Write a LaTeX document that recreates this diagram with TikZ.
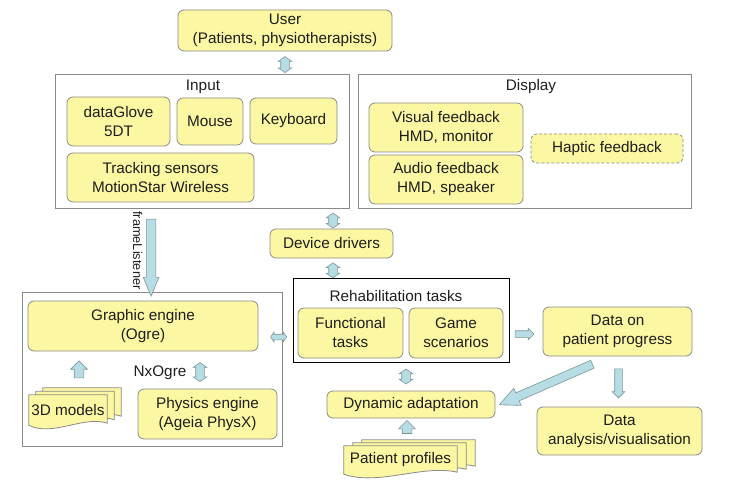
\documentclass[tikz,border=0pt]{standalone}
\usepackage{fontspec}
\setmainfont{Liberation Sans}
\usetikzlibrary{shapes,arrows,positioning,calc,backgrounds}
\definecolor{boxyellow}{HTML}{FBF7A2}
\definecolor{boxline}{HTML}{8A8A8A}
\definecolor{textgray}{HTML}{1E1E1E}
\definecolor{arrowblue}{HTML}{B5DDE3}
\definecolor{arrowline}{HTML}{7E9599}

\tikzset{
  unit/.style={draw=boxline, fill=boxyellow, rounded corners=6pt, align=center, inner sep=0pt, line width=0.8pt},
  group/.style={draw=boxline, line width=0.8pt, inner sep=0pt},
  pagebox/.style={draw=boxline, fill=boxyellow, line width=0.8pt},
  dbl/.style={double arrow, draw=arrowline, fill=arrowblue, inner xsep=0pt, inner ysep=4pt, line width=0.6pt,
    minimum width=13pt, double arrow head extend=2.5pt, double arrow tip angle=110},
  sgl/.style={single arrow, draw=arrowline, fill=arrowblue, inner xsep=0pt, inner ysep=4.5pt, line width=0.6pt,
    minimum width=16pt, single arrow head extend=3.5pt}
}

% stack of pages behind a document node
\newcommand{\pagestack}[3]{%
  \begin{scope}[on background layer]
    \foreach \k in {2,1,0}{
      \draw[pagebox]
        ($(#1.south west)+(\k*#2,\k*#3)$) -- ($(#1.north west)+(\k*#2,\k*#3)$)
        -- ($(#1.north east)+(\k*#2,\k*#3)$) -- ($(#1.south east)+(\k*#2,\k*#3-2)$)
        .. controls ($(#1.south east)!0.3!(#1.south west)+(\k*#2,\k*#3-10)$)
        and ($(#1.south west)!0.3!(#1.south east)+(\k*#2,\k*#3+12)$)
        .. ($(#1.south west)+(\k*#2,\k*#3)$) -- cycle;
    }
  \end{scope}}

\begin{document}
\begin{tikzpicture}[x=1pt, y=-1pt, every node/.style={font=\fontsize{15.3}{19}\selectfont, text=textgray}]
  \useasboundingbox (0,0) rectangle (730,486);

  % User
  \node[unit, minimum width=214pt, minimum height=41pt] (user) at (285,30.5) {User\\(Patients, physiotherapists)};

  % Input
  \node[group, minimum width=294pt, minimum height=134pt] (inputbox) at (202,141) {};
  \node (inputlabel) at (203,87) {Input};
  \node[unit, minimum width=103pt, minimum height=49pt] (glove) at (118.5,121.5) {dataGlove\\5DT};
  \node[unit, minimum width=66pt, minimum height=47pt] (mouse) at (210,121.5) {Mouse};
  \node[unit, minimum width=87pt, minimum height=46pt] (keyboard) at (293.5,121) {Keyboard};
  \node[unit, minimum width=187pt, minimum height=49pt] (tracking) at (160.5,177.5) {Tracking sensors\\MotionStar Wireless};

  % Display
  \node[group, minimum width=333pt, minimum height=134pt] (displaybox) at (524.5,141) {};
  \node (displaylabel) at (531,87) {Display};
  \node[unit, minimum width=154pt, minimum height=49pt] (visual) at (446,127.5) {Visual feedback\\HMD, monitor};
  \node[unit, minimum width=154pt, minimum height=49pt] (audio) at (446,179.5) {Audio feedback\\HMD, speaker};
  \node[unit, dashed, dash pattern=on 3pt off 2pt, minimum width=152pt, minimum height=29pt] (haptic) at (607,148.5) {Haptic feedback};

  \node[unit, minimum width=123pt, minimum height=29pt] (drivers) at (331.5,243.5) {Device drivers};

  % Graphics
  \node[group, minimum width=260pt, minimum height=154pt] (graphbox) at (152,369) {};
  \node[unit, minimum width=230pt, minimum height=50pt] (graphic) at (143,326) {Graphic engine\\(Ogre)};
  \node (nxogre) at (160,373) {NxOgre};
  \node[unit, minimum width=139pt, minimum height=50pt] (physics) at (207.5,414) {Physics engine\\(Ageia PhysX)};
  \node[inner sep=0pt, minimum width=78pt, minimum height=30pt] (models) at (68,410) {3D models};
  \pagestack{models}{7}{-3.5}

  % Rehabilitation
  \node[draw=black, line width=0.8pt, inner sep=0pt, minimum width=216pt, minimum height=84pt] (rehab) at (401,320) {};
  \node (rehablabel) at (396,296) {Rehabilitation tasks};
  \node[unit, minimum width=105pt, minimum height=50pt] (functional) at (350.5,333) {Functional\\tasks};
  \node[unit, minimum width=94pt, minimum height=50pt] (game) at (456,333) {Game\\scenarios};
  \node[unit, minimum width=168pt, minimum height=27pt] (dynamic) at (411,404.5) {Dynamic adaptation};
  \node[inner sep=0pt, minimum width=113pt, minimum height=28pt] (profiles) at (400.5,460) {Patient profiles};
  \pagestack{profiles}{9}{-3}

  % Data
  \node[unit, minimum width=149pt, minimum height=49pt] (progress) at (617.5,331.5) {Data on\\patient progress};
  \node[unit, minimum width=165pt, minimum height=48pt] (analysis) at (619.5,431) {Data\\analysis/visualisation};

  % Arrows
  \node[dbl, rotate=90, minimum height=16pt] (userarrow) at ($(inputbox.north -| user.south)+(0,-9)$) {};
  \node[dbl, rotate=90, minimum height=15pt] (driverarrow) at ($(drivers.north)+(1.5,-8)$) {};
  \node[dbl, rotate=90, minimum height=15pt] (rehabarrow) at ($(drivers.south)+(1.5,12)$) {};
  \node[sgl, rotate=-90, minimum height=77pt, minimum width=15pt, single arrow head extend=3pt, single arrow tip angle=45] (framearrow) at ($(inputbox.south west)+(96.5,43.5)$) {};
  \node[rotate=-90, font=\fontsize{12.8}{15}\selectfont] (framelabel) at ($(framearrow.center)+(-13.5,-1.5)$) {frameListener};
  \node[dbl, minimum height=16pt, minimum width=9pt, inner ysep=2.5pt, double arrow head extend=2pt] (sidearrow) at ($(rehab.west)+(-14,17)$) {};
  \node[dbl, rotate=90, minimum height=19pt] (nxarrow) at ($(physics.north)+(-7.5,-16.5)$) {};
  \node[sgl, rotate=90, minimum height=17pt] (modelsarrow) at ($(models.north)+(11,-23)$) {};
  \node[dbl, rotate=90, minimum height=15pt] (dynarrow) at ($(rehab.south)!0.5!(dynamic.north)$) {};
  \node[sgl, rotate=90, minimum height=13pt] (profarrow) at ($(dynamic.south)+(-4,11)$) {};
  \node[sgl, minimum height=19pt, minimum width=11pt, inner ysep=3pt, single arrow head extend=2.5pt] (progarrow) at ($(rehab.east)+(13.5,14)$) {};
  \node[sgl, rotate=-90, minimum height=29pt, minimum width=12pt, inner ysep=3.5pt, single arrow head extend=2.5pt] (analysisarrow) at ($(progress.south)!0.5!(analysis.north)$) {};
  \coordinate (difftail) at ($(progress.south west)+(54,6)$);
  \coordinate (difftip) at ($(dynamic.east)+(8,-1.5)$);
  \path let \p1=($(difftip)-(difftail)$), \n1={atan2(\y1,\x1)}, \n2={veclen(\x1,\y1)} in
    node[sgl, rotate=\n1, minimum height=\n2, minimum width=18pt, inner ysep=4pt, single arrow head extend=5pt, single arrow tip angle=50] (diffarrow) at ($(difftail)!0.5!(difftip)$) {};
\end{tikzpicture}
\end{document}
